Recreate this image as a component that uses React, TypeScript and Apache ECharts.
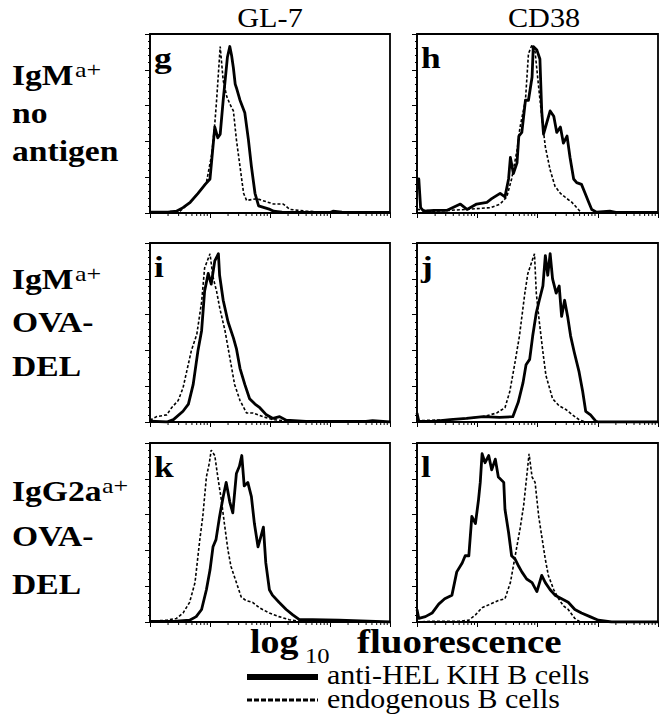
import React, { useEffect, useRef } from 'react';
import * as echarts from 'echarts';

// x = log10 fluorescence (decades 0..4), y = % of panel max
const gSolid = [[0,0.5],[0.3,0.5],[0.44,1],[0.55,3],[0.67,6],[0.8,11],[0.92,16],[1.0,19],[1.03,30],[1.08,48],[1.13,42],[1.17,44],[1.22,63],[1.29,87],[1.33,93],[1.36,88],[1.39,81],[1.42,72],[1.44,70],[1.5,63],[1.58,56],[1.64,41],[1.69,26],[1.75,11],[1.81,4],[2.0,2],[2.06,1],[2.2,0.5],[3.0,0.3],[3.05,1],[3.2,0.5],[4,0.3]];
const gDashed = [[0,0.3],[0.5,1],[0.67,6],[0.8,11],[0.94,17],[1.03,33],[1.08,50],[1.11,63],[1.17,93],[1.22,74],[1.28,65],[1.33,61],[1.39,57],[1.44,41],[1.5,26],[1.56,11],[1.61,7],[1.78,8],[2.06,5],[2.22,5],[2.33,2],[2.61,1],[3,0.3],[4,0.2]];
const hSolid = [[0,19],[0.03,19],[0.06,3],[0.11,1],[0.28,1.5],[0.5,1.5],[0.72,5],[0.83,2],[0.99,5],[1.16,6],[1.24,8],[1.38,11],[1.46,9],[1.52,19],[1.55,31],[1.6,22],[1.66,28],[1.69,43],[1.74,45],[1.8,63],[1.85,63],[1.91,76],[1.93,93],[1.99,91],[2.04,86],[2.07,57],[2.1,44],[2.15,50],[2.21,57],[2.27,54],[2.32,45],[2.38,48],[2.43,39],[2.49,43],[2.54,31],[2.6,19],[2.65,17],[2.73,16],[2.79,11],[2.85,6],[2.9,2],[2.98,0.5],[3.2,1],[3.3,0.3],[4,0.3]];
const hDashed = [[0,2],[0.28,1],[0.83,2],[1.22,3],[1.38,5],[1.49,9],[1.57,19],[1.66,35],[1.71,48],[1.8,63],[1.85,89],[1.91,94],[1.96,90],[2.02,70],[2.07,54],[2.13,37],[2.21,24],[2.29,15],[2.38,11],[2.49,8],[2.57,6],[2.65,3],[2.73,0],[4,0]];
const iSolid = [[0,0.5],[0.28,0],[0.39,1.3],[0.55,6],[0.64,10],[0.72,21],[0.8,40],[0.86,51],[0.91,73],[0.97,83],[1.02,77],[1.08,90],[1.14,94],[1.16,82],[1.22,68],[1.3,56],[1.39,47],[1.44,41],[1.5,30],[1.58,21],[1.66,13],[1.75,10],[1.83,8],[1.94,4],[2.05,2],[2.16,3],[2.27,1],[2.6,0.4],[3.6,0.4],[3.71,0.8],[4,0]];
const iDashed = [[0,1],[0.11,3],[0.28,4],[0.36,8],[0.47,12],[0.55,19],[0.61,28],[0.69,40],[0.78,49],[0.86,67],[0.91,86],[1.0,94],[1.05,81],[1.11,73],[1.16,64],[1.25,51],[1.33,36],[1.41,21],[1.5,12],[1.61,5],[1.72,5],[1.88,3],[2.05,1.3],[2.33,0.4],[4,0]];
const jSolid = [[0,5],[0.03,0.4],[0.27,0.4],[0.55,1.3],[0.82,2],[1.1,3],[1.37,2.6],[1.59,3],[1.68,11],[1.76,22],[1.81,32],[1.87,35],[1.92,48],[1.98,61],[2.03,68],[2.09,76],[2.13,93],[2.17,82],[2.21,94],[2.25,80],[2.31,72],[2.36,76],[2.4,59],[2.45,68],[2.5,59],[2.55,48],[2.61,39],[2.69,28],[2.75,17],[2.8,6],[2.88,4],[2.97,0.4],[3.02,0],[4,0]];
const jDashed = [[0,0.7],[0.55,1.3],[0.82,2],[1.1,3],[1.32,5],[1.46,8],[1.54,17],[1.62,32],[1.7,48],[1.79,72],[1.84,83],[1.92,91],[1.95,94],[1.98,72],[2.03,56],[2.09,39],[2.14,26],[2.25,13],[2.36,9],[2.47,7],[2.58,4],[2.69,1.3],[2.8,0],[4,0]];
const kSolid = [[0,0.4],[0.39,0.4],[0.66,1],[0.77,3],[0.86,7],[0.94,18],[1.0,29],[1.05,42],[1.1,46],[1.16,59],[1.22,70],[1.27,78],[1.33,67],[1.38,61],[1.44,83],[1.49,87],[1.53,93],[1.57,76],[1.63,78],[1.69,70],[1.74,55],[1.8,42],[1.85,48],[1.89,53],[1.93,33],[1.99,18],[2.04,15],[2.15,11],[2.27,7],[2.38,4],[2.49,1.3],[2.71,1.3],[3.15,1],[4,0]];
const kDashed = [[0,0.4],[0.28,1],[0.44,2],[0.55,5],[0.66,11],[0.75,22],[0.83,46],[0.88,59],[0.94,81],[0.99,89],[1.02,96],[1.08,93],[1.13,81],[1.19,68],[1.24,55],[1.3,40],[1.35,31],[1.44,22],[1.52,14],[1.6,12],[1.71,11],[1.82,8],[1.99,5],[2.15,3],[2.32,1.3],[2.49,0.4],[4,0]];
const lSolid = [[0,7],[0.03,2],[0.14,3],[0.25,5],[0.36,10],[0.46,13],[0.58,15],[0.66,28],[0.75,33],[0.8,37],[0.86,37],[0.91,59],[0.97,55],[1.02,68],[1.05,78],[1.08,94],[1.13,89],[1.19,93],[1.24,85],[1.3,91],[1.35,81],[1.44,78],[1.46,63],[1.52,50],[1.57,37],[1.63,35],[1.69,31],[1.74,28],[1.82,24],[1.91,22],[1.99,17],[2.07,26],[2.13,22],[2.21,18],[2.29,15],[2.4,13],[2.51,11],[2.62,7],[2.73,5],[2.87,3],[3.01,1],[3.23,0],[4,0]];
const lDashed = [[0,0],[0.25,0.4],[0.69,0.4],[0.86,1],[0.97,4],[1.08,8],[1.22,10],[1.35,12],[1.46,13],[1.55,22],[1.63,37],[1.71,52],[1.77,65],[1.82,81],[1.86,94],[1.91,81],[1.96,78],[2.02,59],[2.07,48],[2.13,35],[2.18,26],[2.27,18],[2.35,13],[2.43,9],[2.51,7],[2.62,2],[2.71,0],[4,0]];

const COLUMN_TITLES = ['GL-7', 'CD38'];
const PANEL_LETTERS = ['g', 'h', 'i', 'j', 'k', 'l'];
const ROW_LABELS = [
  { main: 'IgM', sup: 'a+', lines: ['no', 'antigen'] },
  { main: 'IgM', sup: 'a+', lines: ['OVA-', 'DEL'] },
  { main: 'IgG2a', sup: 'a+', lines: ['OVA-', 'DEL'] },
];
const AXIS_TITLE = { main1: 'log', sub: '10', main2: 'fluorescence' };
const LEGEND = ['anti-HEL KIH B cells', 'endogenous B cells'];
const DECADES = [0, 1, 2, 3, 4];

const FONT = 'Liberation Serif, Times New Roman, serif';

const SERIES_DATA = [
  [gSolid, gDashed], [hSolid, hDashed],
  [iSolid, iDashed], [jSolid, jDashed],
  [kSolid, kDashed], [lSolid, lDashed],
];

const COL_LEFT = [150, 417];
const COL_WIDTH = [240, 241];
const ROW_TOP = [34, 243, 443];
const PANEL_H = 179;

function txt(text: string, x: number, y: number, fs: number, opts: any = {}) {
  const align = opts.align || 'left';
  return {
    type: 'text',
    x, y,
    scaleX: opts.scaleX ?? 1,
    silent: true,
    z: 100,
    style: {
      text,
      fontSize: fs,
      fontFamily: FONT,
      fontWeight: opts.bold ? 'bold' : 'normal',
      fill: '#000',
      align, textAlign: align,
      verticalAlign: 'middle', textVerticalAlign: 'middle',
    },
  };
}

export default function App() {
  const ref = useRef<HTMLDivElement>(null);
  useEffect(() => {
    const chart = echarts.init(ref.current!, null, { renderer: 'svg' });
    const minorTicks: number[][] = [];
    for (let d = 0; d < DECADES.length - 1; d++) {
      for (let k = 2; k <= 9; k++) minorTicks.push([DECADES[d] + Math.log10(k), 0]);
    }
    const grids: any[] = [], xAxes: any[] = [], yAxes: any[] = [], series: any[] = [];
    const graphic: any[] = [];
    for (let p = 0; p < 6; p++) {
      const r = Math.floor(p / 2), c = p % 2;
      const left = COL_LEFT[c], top = ROW_TOP[r];
      grids.push({ left, top, width: COL_WIDTH[c], height: PANEL_H, show: true, borderColor: '#000', borderWidth: 1.8, backgroundColor: '#fff' });
      xAxes.push({
        type: 'value', gridIndex: p, min: 0, max: 4, interval: 1,
        axisLine: { show: true, onZero: false, lineStyle: { color: '#000', width: 2 } },
        axisTick: { show: true, length: 5, lineStyle: { color: '#000', width: 1 } },
        axisLabel: { show: false }, splitLine: { show: false },
      });
      yAxes.push({
        type: 'value', gridIndex: p, min: 0, max: 100, interval: 20,
        axisLine: { show: true, lineStyle: { color: '#000', width: 1.6 } },
        axisTick: { show: true, length: 5, lineStyle: { color: '#000', width: 1 } },
        minorTick: { show: true, splitNumber: 5, length: 2, lineStyle: { color: '#000', width: 1 } },
        axisLabel: { show: false }, splitLine: { show: false }, minorSplitLine: { show: false },
      });
      const [solid, dashed] = SERIES_DATA[p];
      series.push({
        type: 'line', xAxisIndex: p, yAxisIndex: p, data: dashed, showSymbol: false, symbol: 'none',
        lineStyle: { color: '#000', width: 1.6, type: [3, 2] }, z: 2, silent: true,
      });
      series.push({
        type: 'line', xAxisIndex: p, yAxisIndex: p, data: solid, showSymbol: false, symbol: 'none',
        lineStyle: { color: '#000', width: 2.8, join: 'round' }, z: 3, silent: true,
      });
      series.push({
        type: 'custom', xAxisIndex: p, yAxisIndex: p, data: minorTicks, clip: false, silent: true, z: 4,
        renderItem: (params: any, api: any) => {
          const pt = api.coord([api.value(0), 0]);
          return { type: 'line', shape: { x1: pt[0], y1: pt[1], x2: pt[0], y2: pt[1] + 3 }, style: { stroke: '#000', lineWidth: 1 } };
        },
      });
      graphic.push(txt(PANEL_LETTERS[p], left + 4, top + 24, 30, { bold: true, scaleX: 1.18 }));
    }
    // column titles
    graphic.push(txt(COLUMN_TITLES[0], 270, 18, 27, { align: 'center', scaleX: 1.12 }));
    graphic.push(txt(COLUMN_TITLES[1], 544, 18, 27, { align: 'center', scaleX: 1.12 }));
    // row labels
    const rowY = [[75, 113, 151], [279, 322, 366], [491, 536, 584]];
    const supX = [75, 75, 102];
    ROW_LABELS.forEach((rl, i) => {
      graphic.push(txt(rl.main, 12, rowY[i][0], 30, { bold: true, scaleX: 1.12 }));
      graphic.push(txt(rl.sup, supX[i], rowY[i][0] - 5, 22, { scaleX: 1.18 }));
      graphic.push(txt(rl.lines[0], 12, rowY[i][1], 30, { bold: true, scaleX: 1.12 }));
      graphic.push(txt(rl.lines[1], 12, rowY[i][2], 30, { bold: true, scaleX: 1.12 }));
    });
    // axis title
    graphic.push(txt(AXIS_TITLE.main1, 250, 642, 33, { bold: true, scaleX: 1.15 }));
    graphic.push(txt(AXIS_TITLE.sub, 305, 655, 22, { scaleX: 1.12 }));
    graphic.push(txt(AXIS_TITLE.main2, 357, 642, 33, { bold: true, scaleX: 1.18 }));
    // legend
    graphic.push({ type: 'line', silent: true, shape: { x1: 247, y1: 677, x2: 318, y2: 677 }, style: { stroke: '#000', lineWidth: 6 } });
    graphic.push({ type: 'line', silent: true, shape: { x1: 247, y1: 700, x2: 318, y2: 700 }, style: { stroke: '#000', lineWidth: 3, lineDash: [5, 2] } });
    graphic.push(txt(LEGEND[0], 327, 674, 28, { scaleX: 1.07 }));
    graphic.push(txt(LEGEND[1], 327, 698, 28, { scaleX: 1.07 }));

    chart.setOption({
      animation: false,
      backgroundColor: '#fff',
      grid: grids, xAxis: xAxes, yAxis: yAxes, series, graphic,
    });
    return () => chart.dispose();
  }, []);
  return <div ref={ref} style={{ position: 'absolute', left: 0, top: 0, width: 666, height: 720, background: '#fff' }} />;
}
